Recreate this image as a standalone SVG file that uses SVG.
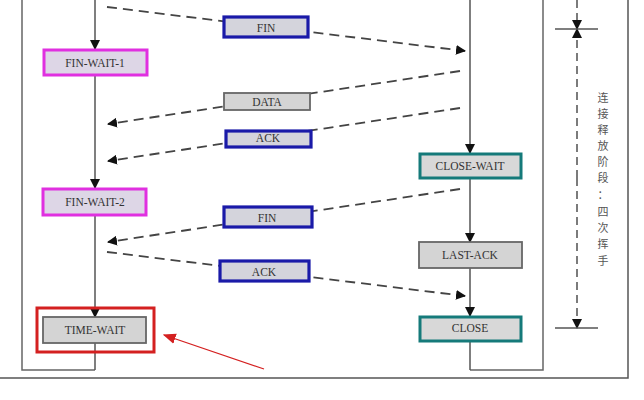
<svg xmlns="http://www.w3.org/2000/svg" width="644" height="400" viewBox="0 0 644 400">
<defs>
<marker id="ah" viewBox="0 0 10 10" refX="9" refY="5" markerWidth="10" markerHeight="10" markerUnits="userSpaceOnUse" orient="auto"><path d="M0,0 L10,5 L0,10 z" fill="#111"/></marker>
<marker id="ahr" viewBox="0 0 10 10" refX="9" refY="5" markerWidth="13" markerHeight="13" markerUnits="userSpaceOnUse" orient="auto"><path d="M0,1 L10,5 L0,9 z" fill="#d42020"/></marker>
</defs>
<style>
.life{fill:none;stroke:#666;stroke-width:1.5}
.flow{fill:none;stroke:#555;stroke-width:1.5}
.dash{fill:none;stroke:#444;stroke-width:1.8;stroke-dasharray:10,6}
.mag{stroke:#e030e0;stroke-width:3;fill:#ddd6e6}
.teal{stroke:#157a7a;stroke-width:3;fill:#d8d8d8}
.gray{stroke:#666;stroke-width:1.8;fill:#d4d4d4}
.blue{stroke:#1a1aa8;stroke-width:3.2;fill:#d4d4dc}
.dim{stroke:#444;stroke-width:1.4;stroke-dasharray:8,5}
text{font-family:"Liberation Serif","Times New Roman",serif;font-size:11.5px;fill:#333;text-anchor:middle;dominant-baseline:central}
.cn{font-family:"Noto Sans CJK SC",sans-serif;font-size:11px;fill:#555}
</style>
<rect width="644" height="400" fill="#fff"/>
<g id="frame">
<path class="life" d="M22,0 V370 H95"/>
<path class="life" d="M470,370 H543 V0"/>
<path d="M0,378 H628 V0" fill="none" stroke="#555" stroke-width="1.5"/>
</g>
<g id="connectors">
<line class="flow" x1="95" y1="0" x2="95" y2="49" marker-end="url(#ah)"/>
<line class="flow" x1="95" y1="76" x2="95" y2="188" marker-end="url(#ah)"/>
<line class="flow" x1="95" y1="216" x2="95" y2="317" marker-end="url(#ah)"/>
<line class="flow" x1="95" y1="343" x2="95" y2="370"/>
<line class="flow" x1="470" y1="0" x2="470" y2="153" marker-end="url(#ah)"/>
<line class="flow" x1="470" y1="178" x2="470" y2="242" marker-end="url(#ah)"/>
<line class="flow" x1="470" y1="268" x2="470" y2="316" marker-end="url(#ah)"/>
<line class="flow" x1="470" y1="341" x2="470" y2="370"/>
<line class="dash" x1="107" y1="7" x2="465" y2="51" marker-end="url(#ah)"/>
<line class="dash" x1="460" y1="71" x2="108" y2="124" marker-end="url(#ah)"/>
<line class="dash" x1="460" y1="108" x2="108" y2="161" marker-end="url(#ah)"/>
<line class="dash" x1="460" y1="189" x2="108" y2="242" marker-end="url(#ah)"/>
<line class="dash" x1="107" y1="252" x2="465" y2="296" marker-end="url(#ah)"/>
<line x1="264" y1="369" x2="164" y2="335" stroke="#d42020" stroke-width="1.2" marker-end="url(#ahr)"/>
</g>
<g id="msg-fin1"><rect class="blue" x="224" y="17" width="84" height="20"/><text x="266" y="27.5">FIN</text></g>
<g id="msg-data"><rect class="gray" x="224" y="93" width="86" height="17"/><text x="267" y="101.5">DATA</text></g>
<g id="msg-ack1"><rect class="blue" x="226" y="131" width="85" height="16"/><text x="268" y="138">ACK</text></g>
<g id="msg-fin2"><rect class="blue" x="224" y="207" width="88" height="20"/><text x="267" y="218">FIN</text></g>
<g id="msg-ack2"><rect class="blue" x="220" y="261" width="89" height="20"/><text x="264" y="272">ACK</text></g>
<g id="fin-wait-1"><rect class="mag" x="44" y="50" width="103" height="25"/><text x="95" y="63">FIN-WAIT-1</text></g>
<g id="fin-wait-2"><rect class="mag" x="43" y="189" width="103" height="26"/><text x="95" y="202">FIN-WAIT-2</text></g>
<g id="time-wait"><rect x="37" y="308" width="117" height="44" fill="none" stroke="#d42020" stroke-width="3"/><rect class="gray" x="43" y="317" width="103" height="26"/><text x="95" y="330">TIME-WAIT</text></g>
<g id="close-wait"><rect class="teal" x="420" y="154" width="101" height="24"/><text x="470" y="166">CLOSE-WAIT</text></g>
<g id="last-ack"><rect class="gray" x="419" y="242" width="103" height="26"/><text x="470" y="255">LAST-ACK</text></g>
<g id="close"><rect class="teal" x="420" y="317" width="101" height="24"/><text x="470" y="328">CLOSE</text></g>
<g id="dimension">
<line class="dim" x1="577" y1="0" x2="577" y2="29" marker-end="url(#ah)"/>
<line class="dim" x1="577" y1="178" x2="577" y2="29" marker-end="url(#ah)"/>
<line class="dim" x1="577" y1="178" x2="577" y2="328" marker-end="url(#ah)"/>
<line x1="555" y1="29" x2="598" y2="29" stroke="#555" stroke-width="1.5"/>
<line x1="555" y1="328" x2="598" y2="328" stroke="#555" stroke-width="1.5"/>
<text class="cn" x="603" y="97">连</text>
<text class="cn" x="603" y="113">接</text>
<text class="cn" x="603" y="129">释</text>
<text class="cn" x="603" y="145">放</text>
<text class="cn" x="603" y="161">阶</text>
<text class="cn" x="603" y="177">段</text>
<text class="cn" x="603" y="194">：</text>
<text class="cn" x="603" y="211">四</text>
<text class="cn" x="603" y="227">次</text>
<text class="cn" x="603" y="243">挥</text>
<text class="cn" x="603" y="260">手</text>
</g>
</svg>
